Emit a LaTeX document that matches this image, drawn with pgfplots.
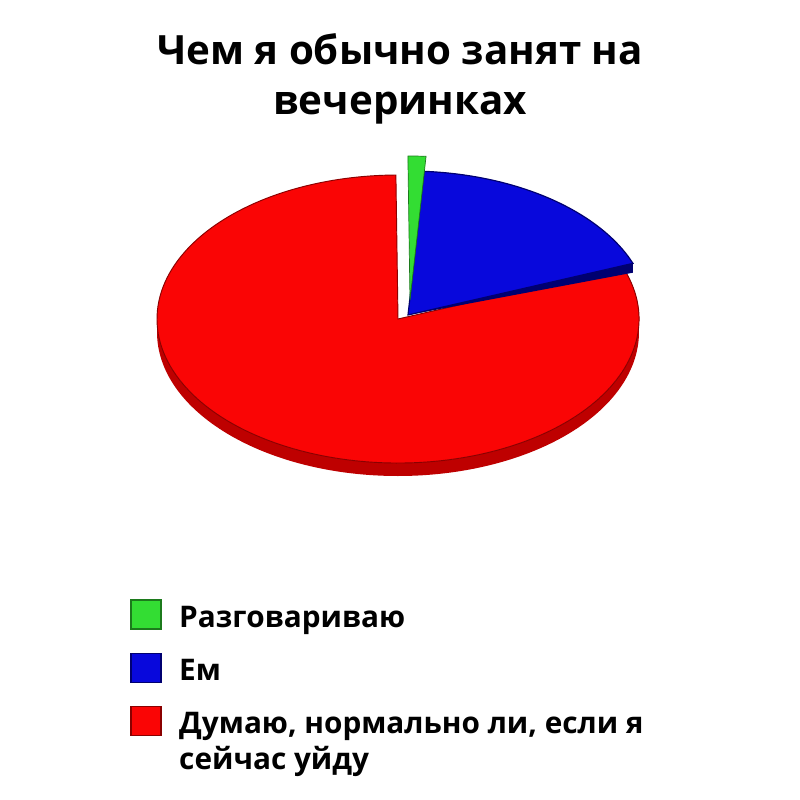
\documentclass[border=0pt]{standalone}
\usepackage{fontspec}
\setmainfont{Open Sans}
\usepackage{pgfplots}
\usepackage{pgfplotstable}
\pgfplotsset{compat=1.18}

\definecolor{pgreen}{HTML}{33DD33}
\definecolor{pgreenedge}{HTML}{1C7A1C}
\definecolor{pblue}{HTML}{0808DC}
\definecolor{pblueside}{HTML}{000070}
\definecolor{pred}{HTML}{FA0505}
\definecolor{predside}{HTML}{BE0000}
\definecolor{prededge}{HTML}{8A0000}

% share in percent, clockwise from the top
\pgfplotstableread{
label value
talk  1.2
eat   18.1
leave 80.7
}\slices

\pgfplotstablegetelem{0}{value}\of\slices \let\vg\pgfplotsretval
\pgfplotstablegetelem{1}{value}\of\slices \let\vb\pgfplotsretval
\pgfplotstablegetelem{2}{value}\of\slices \let\vr\pgfplotsretval

% angles (ellipse parameter), start just right of 12 o'clock
\pgfmathsetmacro\aA{90.5}
\pgfmathsetmacro\aB{\aA-3.6*\vg}
\pgfmathsetmacro\aC{\aB-3.6*\vb}
\pgfmathsetmacro\aD{\aC-3.6*\vr}

% tilted pie: radii and side height (1 px = 0.015cm)
\def\rx{3.615cm}
\def\ry{2.16cm}
\def\th{0.195cm}

\begin{document}
\begin{tikzpicture}
\begin{axis}[
    width=12cm, height=12cm, scale only axis,
    xmin=0, xmax=800, ymin=0, ymax=800,
    hide axis, clip=false,
    legend style={draw=none, fill=none, inner sep=0pt,
        at={(axis cs:130,206)}, anchor=north west,
        column sep=0.19cm, row sep=0.185cm,
        font=\bfseries\fontsize{12.7}{15.2}\selectfont,
        cells={anchor=base west, inner sep=0pt,
               text height=0.42cm, text depth=0.115cm}},
]
% red: side, then top
\fill[predside] (axis cs:398,481) ++(\aC:{\rx} and {\ry})
    arc[start angle=\aC, end angle=-180, x radius=\rx, y radius=\ry]
    -- ++(0,-\th)
    arc[start angle=-180, end angle=\aC, x radius=\rx, y radius=\ry] -- cycle;
\fill[pred, draw=prededge, line width=0.4pt] (axis cs:398,481) -- ++(\aC:{\rx} and {\ry})
    arc[start angle=\aC, end angle=\aD, x radius=\rx, y radius=\ry] -- cycle;
% blue: cut face (seen only near the rim), then top
\fill[pblueside] (axis cs:408,485) -- ++(\aC:{\rx} and {\ry}) -- ++(0,-0.14cm) -- cycle;
\fill[pblue, draw=pblueside, line width=0.5pt] (axis cs:408,485) -- ++(\aB:{\rx} and {\ry})
    arc[start angle=\aB, end angle=\aC, x radius=\rx, y radius=\ry] -- cycle;
% green, pulled out upwards
\fill[pgreen, draw=pgreenedge, line width=0.3pt] (axis cs:410,500) -- ++(\aA:{\rx} and {\ry})
    arc[start angle=\aA, end angle=\aB, x radius=\rx, y radius=\ry] -- cycle;

\node[anchor=base, font=\bfseries\fontsize{17.2}{20}\selectfont]
    at (axis cs:400,736) {Чем я обычно занят на};
\node[anchor=base, font=\bfseries\fontsize{17.2}{20}\selectfont]
    at (axis cs:400,686) {вечеринках};

\addlegendimage{legend image code/.code={
    \fill[pgreen, draw=pgreenedge, line width=0.6pt] (0cm,-0.03cm) rectangle (0.45cm,0.405cm);}}
\addlegendentry{Разговариваю}
\addlegendimage{legend image code/.code={
    \fill[pblue, draw=pblueside, line width=0.6pt] (0cm,-0.03cm) rectangle (0.45cm,0.405cm);}}
\addlegendentry{Ем}
\addlegendimage{legend image code/.code={
    \fill[pred, draw=prededge, line width=0.6pt] (0cm,-0.03cm) rectangle (0.45cm,0.405cm);}}
\addlegendentry{\vtop{\hbox{Думаю, нормально ли, если я}\hbox{сейчас уйду}}}
\end{axis}
\pgfresetboundingbox
\useasboundingbox (current axis.south west) rectangle (current axis.north east);
\end{tikzpicture}
\end{document}
